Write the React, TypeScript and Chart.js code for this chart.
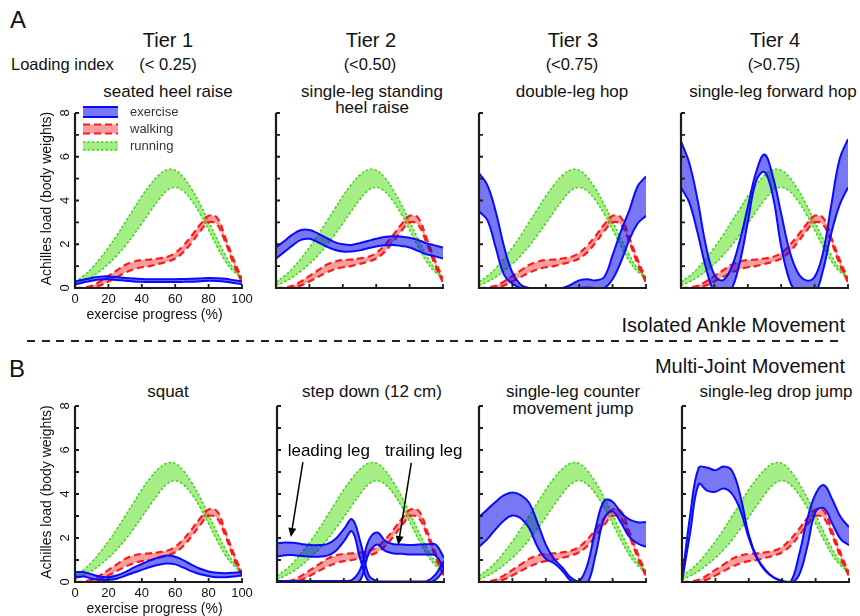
import React, { useEffect, useRef } from 'react';
import { Chart, registerables } from 'chart.js';

Chart.register(...registerables);

// ---------------- data ----------------
const X_PROGRESS = [0, 5, 10, 15, 20, 25, 30, 35, 40, 45, 50, 55, 60, 65, 70, 75, 80, 85, 90, 95, 100];
const X_TICKS = [0, 20, 40, 60, 80, 100];
const Y_TICKS = [0, 1, 2, 3, 4, 5, 6, 7, 8];
const Y_LABELS = [0, 2, 4, 6, 8];
const LEGEND_NAMES = ['exercise', 'walking', 'running'];

const RUNNING_UPPER = [0.28, 0.55, 0.9, 1.35, 1.85, 2.4, 3.0, 3.6, 4.2, 4.72, 5.15, 5.4, 5.38, 5.05, 4.5, 3.82, 3.05, 2.25, 1.5, 0.9, 0.5];
const RUNNING_LOWER = [0.12, 0.28, 0.5, 0.78, 1.1, 1.48, 1.92, 2.42, 2.95, 3.5, 4.02, 4.45, 4.6, 4.42, 3.98, 3.38, 2.65, 1.9, 1.22, 0.75, 0.45];

const WALKING_UPPER = [0.0, 0.02, 0.1, 0.3, 0.55, 0.8, 1.05, 1.2, 1.28, 1.3, 1.35, 1.42, 1.6, 1.95, 2.4, 2.9, 3.3, 3.22, 2.3, 1.3, 0.4];
const WALKING_LOWER = [0.0, 0.0, 0.02, 0.12, 0.3, 0.5, 0.7, 0.85, 0.95, 1.0, 1.1, 1.2, 1.35, 1.65, 2.1, 2.6, 3.0, 2.9, 2.1, 1.1, 0.25];

const SEATED_UPPER = [0.3, 0.38, 0.46, 0.52, 0.53, 0.5, 0.46, 0.43, 0.41, 0.4, 0.4, 0.4, 0.4, 0.41, 0.42, 0.44, 0.46, 0.45, 0.42, 0.36, 0.3];
const SEATED_LOWER = [0.17, 0.25, 0.33, 0.39, 0.4, 0.37, 0.33, 0.3, 0.28, 0.27, 0.27, 0.27, 0.27, 0.28, 0.29, 0.31, 0.33, 0.32, 0.29, 0.23, 0.17];

const STANDING_UPPER = [1.85, 2.15, 2.45, 2.65, 2.65, 2.5, 2.3, 2.1, 2.0, 1.97, 2.05, 2.15, 2.25, 2.33, 2.37, 2.35, 2.3, 2.2, 2.05, 1.95, 1.85];
const STANDING_LOWER = [1.35, 1.65, 1.95, 2.2, 2.25, 2.1, 1.9, 1.75, 1.67, 1.67, 1.72, 1.82, 1.9, 1.95, 1.97, 1.92, 1.85, 1.7, 1.55, 1.45, 1.35];

const DOUBLE_HOP_UPPER = [5.25, 4.7, 3.5, 1.9, 0.7, 0.15, 0.0, -0.05, -0.05, -0.05, 0.0, 0.15, 0.35, 0.4, 0.35, 0.5, 1.5, 2.6, 3.55, 4.65, 5.1];
const DOUBLE_HOP_LOWER = [3.5, 3.1, 1.85, 0.6, 0.2, 0.0, -0.1, -0.1, -0.1, -0.1, -0.1, -0.1, 0.0, 0.02, 0.0, 0.0, 0.4, 1.2, 2.2, 2.95, 3.3];

const FORWARD_HOP_UPPER = [6.7, 5.7, 4.0, 1.9, 0.6, 0.35, 0.9, 2.1, 3.7, 5.3, 6.1, 5.1, 3.4, 1.7, 0.7, 0.35, 0.5, 1.6, 3.8, 5.9, 6.8];
const FORWARD_HOP_LOWER = [4.6, 3.9, 2.5, 0.9, -0.2, -0.4, -0.1, 1.1, 3.0, 4.9, 5.3, 4.2, 1.9, 0.35, -0.3, -0.4, -0.3, 0.8, 2.5, 3.8, 4.6];

const SQUAT_UPPER = [0.45, 0.45, 0.35, 0.25, 0.22, 0.3, 0.45, 0.65, 0.82, 0.98, 1.12, 1.2, 1.15, 0.98, 0.78, 0.6, 0.48, 0.42, 0.4, 0.42, 0.46];
const SQUAT_LOWER = [0.2, 0.25, 0.15, 0.1, 0.1, 0.15, 0.28, 0.42, 0.55, 0.68, 0.78, 0.84, 0.8, 0.65, 0.48, 0.35, 0.27, 0.22, 0.22, 0.25, 0.3];

const LEADING_UPPER = [1.75, 1.8, 1.78, 1.72, 1.68, 1.68, 1.72, 1.95, 2.4, 2.85, 1.8, 0.3, 0.05, 0.02, 0.02, 0.02, 0.02, 0.02, 0.05, 0.35, 0.95];
const LEADING_LOWER = [1.15, 1.22, 1.22, 1.18, 1.15, 1.15, 1.2, 1.4, 1.85, 2.3, 1.0, 0.0, -0.05, -0.05, -0.05, -0.05, -0.05, -0.05, -0.05, 0.1, 0.55];
const TRAILING_UPPER = [0.05, 0.05, 0.05, 0.05, 0.05, 0.05, 0.05, 0.05, 0.05, 0.1, 0.6, 1.9, 2.25, 1.85, 1.72, 1.7, 1.68, 1.7, 1.72, 1.7, 1.1];
const TRAILING_LOWER = [-0.05, -0.05, -0.05, -0.05, -0.05, -0.05, -0.05, -0.05, -0.05, -0.05, 0.1, 1.3, 1.7, 1.4, 1.3, 1.28, 1.25, 1.25, 1.25, 1.2, 0.6];

const CMJ_UPPER = [2.95, 3.3, 3.65, 3.95, 4.07, 3.95, 3.6, 2.7, 1.7, 1.05, 0.65, 0.2, 0.05, 0.8, 2.5, 3.7, 3.65, 3.15, 2.85, 2.72, 2.72];
const CMJ_LOWER = [1.6, 1.95, 2.4, 2.8, 3.02, 2.9, 2.45, 1.6, 1.05, 0.85, 0.5, 0.05, -0.1, -0.05, 1.3, 2.9, 3.2, 2.7, 2.05, 1.75, 1.6];

const DROP_UPPER = [0.05, 3.1, 5.2, 5.2, 5.08, 5.25, 5.05, 3.9, 2.15, 1.1, 0.55, 0.2, 0.05, 0.0, 1.2, 2.85, 4.0, 4.4, 3.75, 2.95, 2.5];
const DROP_LOWER = [0.0, 2.3, 4.45, 4.15, 4.1, 4.25, 4.0, 3.25, 2.0, 1.05, 0.5, 0.2, 0.05, -0.05, 0.3, 1.6, 3.2, 3.35, 2.65, 1.95, 1.67];

// annotation arrows in data coordinates: [x0, y0, x1, y1]
const LEADING_ARROW = [15.5, 5.45, 8.3, 2.05];
const TRAILING_ARROW = [80.4, 5.41, 72.6, 1.68];
const LEADING_TEXT = [31, 5.95];
const TRAILING_TEXT = [87.8, 5.95];

// ---------------- styles ----------------
const FONT = '"Liberation Sans", Arial, Helvetica, sans-serif';
const STYLES: any = {
  exercise: { line: '#0a0aff', w: 2, dash: [], fill: 'rgba(10,10,235,0.55)', order: 10 },
  walking: { line: '#ff1a1a', w: 2.2, dash: [7, 4], fill: 'rgba(238,40,40,0.45)', order: 20 },
  running: { line: '#3fd31a', w: 1.5, dash: [2.5, 2], fill: 'rgba(110,228,60,0.62)', order: 30 },
};

const PL = 50, PT = 10, PR = 30, PB = 40;

function drawArrow(ctx: CanvasRenderingContext2D, x0: number, y0: number, x1: number, y1: number) {
  const ang = Math.atan2(y1 - y0, x1 - x0);
  const hl = 9, hw = 4;
  ctx.beginPath();
  ctx.moveTo(x0, y0);
  ctx.lineTo(x1 - Math.cos(ang) * hl * 0.8, y1 - Math.sin(ang) * hl * 0.8);
  ctx.stroke();
  ctx.beginPath();
  ctx.moveTo(x1, y1);
  ctx.lineTo(x1 - Math.cos(ang) * hl - Math.sin(ang) * hw, y1 - Math.sin(ang) * hl + Math.cos(ang) * hw);
  ctx.lineTo(x1 - Math.cos(ang) * hl + Math.sin(ang) * hw, y1 - Math.sin(ang) * hl - Math.cos(ang) * hw);
  ctx.closePath();
  ctx.fill();
}

const axesPlugin = {
  id: 'axesDeco',
  afterDatasetsDraw(chart: any, _args: any, opts: any) {
    const { ctx, chartArea } = chart;
    const { left, right, top, bottom } = chartArea;
    const xs = chart.scales.x;
    const ys = chart.scales.y;
    ctx.save();
    ctx.strokeStyle = '#1c1c1c';
    ctx.lineWidth = 2.2;
    ctx.beginPath();
    ctx.moveTo(left, top);
    ctx.lineTo(left, bottom);
    ctx.lineTo(right + 1, bottom);
    ctx.stroke();
    ctx.lineWidth = 1.8;
    ctx.beginPath();
    Y_TICKS.forEach((v) => {
      const py = ys.getPixelForValue(v);
      ctx.moveTo(left, py);
      ctx.lineTo(left + 4, py);
    });
    X_TICKS.forEach((v) => {
      const px = xs.getPixelForValue(v);
      ctx.moveTo(px, bottom);
      ctx.lineTo(px, bottom - 4);
    });
    ctx.stroke();

    ctx.fillStyle = '#111';
    if (opts.labels) {
      ctx.font = `13px ${FONT}`;
      ctx.textAlign = 'center';
      ctx.textBaseline = 'middle';
      X_TICKS.forEach((v) => {
        ctx.fillText(String(v), xs.getPixelForValue(v), bottom + 11);
      });
      Y_LABELS.forEach((v) => {
        ctx.save();
        ctx.translate(left - 10, ys.getPixelForValue(v));
        ctx.rotate(-Math.PI / 2);
        ctx.fillText(String(v), 0, 0);
        ctx.restore();
      });
      ctx.font = `14px ${FONT}`;
      ctx.fillText('exercise progress (%)', (left + right) / 2 - 4, bottom + 27.5);
      ctx.save();
      ctx.translate(left - 28, (top + bottom) / 2 - 2);
      ctx.rotate(-Math.PI / 2);
      ctx.fillText('Achilles load (body weights)', 0, 0);
      ctx.restore();
    }

    if (opts.legend) {
      const kinds = ['exercise', 'walking', 'running'];
      const centers = [-1, 16, 33];
      const heights = [10, 9, 8];
      kinds.forEach((k, i) => {
        const st = STYLES[k];
        const cy = top + centers[i];
        const h = heights[i];
        const x0 = left + 8, x1 = left + 43;
        ctx.fillStyle = st.fill;
        ctx.fillRect(x0, cy - h / 2, x1 - x0, h);
        ctx.strokeStyle = st.line;
        ctx.lineWidth = st.w;
        ctx.setLineDash(st.dash);
        ctx.beginPath();
        ctx.moveTo(x0, cy - h / 2);
        ctx.lineTo(x1, cy - h / 2);
        ctx.moveTo(x0, cy + h / 2);
        ctx.lineTo(x1, cy + h / 2);
        ctx.stroke();
        ctx.setLineDash([]);
        ctx.fillStyle = '#333';
        ctx.font = `13px ${FONT}`;
        ctx.textAlign = 'left';
        ctx.textBaseline = 'middle';
        ctx.fillText(LEGEND_NAMES[i], left + 55, cy);
      });
    }

    if (opts.notes) {
      ctx.strokeStyle = '#000';
      ctx.fillStyle = '#000';
      ctx.lineWidth = 1.5;
      [LEADING_ARROW, TRAILING_ARROW].forEach((a) => {
        drawArrow(ctx, xs.getPixelForValue(a[0]), ys.getPixelForValue(a[1]), xs.getPixelForValue(a[2]), ys.getPixelForValue(a[3]));
      });
      ctx.font = `17px ${FONT}`;
      ctx.textAlign = 'center';
      ctx.textBaseline = 'middle';
      ctx.fillText('leading leg', xs.getPixelForValue(LEADING_TEXT[0]), ys.getPixelForValue(LEADING_TEXT[1]));
      ctx.fillText('trailing leg', xs.getPixelForValue(TRAILING_TEXT[0]), ys.getPixelForValue(TRAILING_TEXT[1]));
    }
    ctx.restore();
  },
};

type Band = { kind: string; upper: number[]; lower: number[] };

function toPoints(arr: number[]) {
  return X_PROGRESS.map((x, i) => ({ x, y: arr[i] }));
}

function Panel(props: { left: number; top: number; width: number; height: number; bands: Band[]; labels?: boolean; legend?: boolean; notes?: boolean }) {
  const ref = useRef<HTMLCanvasElement>(null);
  const { left, top, width, height, bands, labels, legend, notes } = props;
  useEffect(() => {
    const datasets: any[] = [];
    bands.forEach((b) => {
      const st = STYLES[b.kind];
      const common = {
        borderColor: st.line,
        borderWidth: st.w,
        borderDash: st.dash,
        pointRadius: 0,
        tension: 0.4,
        order: st.order,
      };
      datasets.push({ ...common, data: toPoints(b.lower), fill: false });
      datasets.push({ ...common, data: toPoints(b.upper), fill: '-1', backgroundColor: st.fill });
    });
    const chart = new Chart(ref.current as HTMLCanvasElement, {
      type: 'line',
      data: { datasets },
      options: {
        animation: false,
        responsive: false,
        maintainAspectRatio: false,
        events: [],
        layout: { padding: { left: PL, top: PT, right: PR, bottom: PB } },
        scales: {
          x: { type: 'linear', min: 0, max: 100, display: false },
          y: { type: 'linear', min: 0, max: 8, display: false },
        },
        plugins: {
          legend: { display: false },
          tooltip: { enabled: false },
          axesDeco: { labels: !!labels, legend: !!legend, notes: !!notes },
        } as any,
      },
      plugins: [axesPlugin as any],
    });
    return () => chart.destroy();
  }, []);
  const w = width + PL + PR;
  const h = height + PT + PB;
  return (
    <canvas
      ref={ref}
      width={w}
      height={h}
      style={{ position: 'absolute', left: left - PL, top: top - PT, width: w, height: h }}
    />
  );
}

function T(props: { x: number; y: number; size: number; align?: 'left' | 'center' | 'right'; children: any }) {
  const { x, y, size, align = 'center', children } = props;
  const style: any = {
    position: 'absolute',
    top: y - size / 2,
    fontSize: size,
    lineHeight: `${size}px`,
    whiteSpace: 'nowrap',
    color: '#111',
    fontFamily: FONT,
  };
  if (align === 'center') {
    style.left = x;
    style.transform = 'translateX(-50%)';
  } else if (align === 'left') {
    style.left = x;
  } else {
    style.right = 860 - x;
  }
  return <div style={style}>{children}</div>;
}

const RUN: Band = { kind: 'running', upper: RUNNING_UPPER, lower: RUNNING_LOWER };
const WALK: Band = { kind: 'walking', upper: WALKING_UPPER, lower: WALKING_LOWER };
const ex = (u: number[], l: number[]): Band => ({ kind: 'exercise', upper: u, lower: l });

export default function App() {
  const W = 167;
  const topRowY = 113, topH = 175;
  const botRowY = 406, botH = 176;
  return (
    <div style={{ position: 'absolute', left: 0, top: 0, width: 860, height: 616, background: '#fff', overflow: 'hidden', fontFamily: FONT }}>
      <T x={10} y={20} size={24} align="left">A</T>
      <T x={168} y={40} size={20}>Tier 1</T>
      <T x={371} y={40} size={20}>Tier 2</T>
      <T x={573} y={40} size={20}>Tier 3</T>
      <T x={775} y={40} size={20}>Tier 4</T>
      <T x={11} y={64} size={16.5} align="left">Loading index</T>
      <T x={168} y={64} size={16.5}>(&lt; 0.25)</T>
      <T x={370} y={64} size={16.5}>(&lt;0.50)</T>
      <T x={572} y={64} size={16.5}>(&lt;0.75)</T>
      <T x={774} y={64} size={16.5}>(&gt;0.75)</T>
      <T x={168} y={91} size={17}>seated heel raise</T>
      <T x={372} y={91} size={17}>single-leg standing</T>
      <T x={372} y={107} size={17}>heel raise</T>
      <T x={572} y={91} size={17}>double-leg hop</T>
      <T x={773} y={91} size={17}>single-leg forward hop</T>

      <T x={845} y={325} size={20} align="right">Isolated Ankle Movement</T>
      <div style={{ position: 'absolute', left: 27, top: 340, width: 818, height: 2, background: 'repeating-linear-gradient(90deg, #222 0px, #222 8px, transparent 8px, transparent 14.6px)' }} />
      <T x={9} y={369} size={24} align="left">B</T>
      <T x={845} y={366} size={20} align="right">Multi-Joint Movement</T>

      <T x={168} y={391} size={17}>squat</T>
      <T x={372} y={391} size={17}>step down (12 cm)</T>
      <T x={573} y={391} size={17}>single-leg counter</T>
      <T x={573} y={408} size={17}>movement jump</T>
      <T x={776} y={391} size={17}>single-leg drop jump</T>

      <Panel left={75} top={topRowY} width={W} height={topH} bands={[RUN, WALK, ex(SEATED_UPPER, SEATED_LOWER)]} labels legend />
      <Panel left={276} top={topRowY} width={W} height={topH} bands={[RUN, WALK, ex(STANDING_UPPER, STANDING_LOWER)]} />
      <Panel left={479} top={topRowY} width={W} height={topH} bands={[RUN, WALK, ex(DOUBLE_HOP_UPPER, DOUBLE_HOP_LOWER)]} />
      <Panel left={681} top={topRowY} width={W} height={topH} bands={[RUN, WALK, ex(FORWARD_HOP_UPPER, FORWARD_HOP_LOWER)]} />

      <Panel left={75} top={botRowY} width={W} height={botH} bands={[RUN, WALK, ex(SQUAT_UPPER, SQUAT_LOWER)]} labels />
      <Panel left={277} top={botRowY} width={W} height={botH} bands={[RUN, WALK, ex(LEADING_UPPER, LEADING_LOWER), ex(TRAILING_UPPER, TRAILING_LOWER)]} notes />
      <Panel left={479} top={botRowY} width={W} height={botH} bands={[RUN, WALK, ex(CMJ_UPPER, CMJ_LOWER)]} />
      <Panel left={682} top={botRowY} width={W} height={botH} bands={[RUN, WALK, ex(DROP_UPPER, DROP_LOWER)]} />
    </div>
  );
}
